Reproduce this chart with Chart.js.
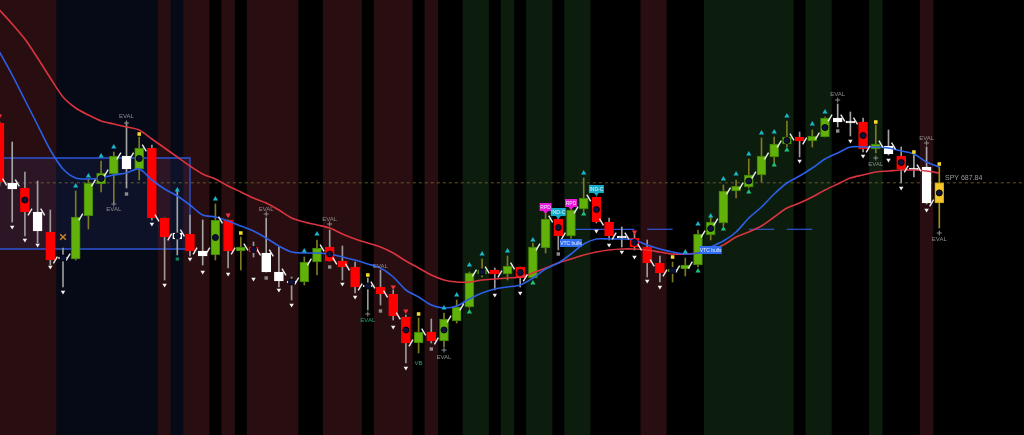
<!DOCTYPE html>
<html><head><meta charset="utf-8">
<script src="https://cdn.jsdelivr.net/npm/chart.js@4.4.1/dist/chart.umd.min.js"></script>
<style>html,body{margin:0;padding:0;background:#000;overflow:hidden}#wrap{width:1024px;height:435px}</style>
</head><body><div id="wrap"><canvas id="c" width="1024" height="435"></canvas></div>
<script>
// ---------- data (SPY daily) ----------
const opens  = [699.8,686.6,686.8,678.2,678.0,672.6,672.6,681.2,687.6,689.6, 690.6,690.6,694.8,680.8,676.6,677.6,673.2,673.4,680.4,674.2, 675.0,670.0,668.2,667.8,668.0,672.0,675.0,672.2,671.0,667.0, 667.0,665.6,661.0,655.8,658.0,656.2,660.2,663.0,669.6,670.4, 669.6,671.0,668.8,674.8,680.6,677.2,682.6,685.0,680.0,676.8, 676.8,675.0,671.8,670.0,670.6,671.4,677.4,679.8,686.2,687.0, 689.4,693.0,695.6,697.0,696.2,697.0,700.0,699.8,700.0,694.6, 693.6,693.2,690.4,691.0,683.8];
const highs  = [700.0,696.0,690.0,688.2,682.4,674.8,686.2,688.6,692.2,694.0, 700.0,697.0,695.4,680.8,686.4,681.4,680.4,683.6,680.4,677.0, 676.0,680.8,675.0,669.0,673.0,676.4,678.4,675.2,672.0,668.8, 670.4,666.4,661.4,660.8,660.6,661.8,664.4,670.0,672.6,670.8, 673.2,671.0,675.8,681.8,681.0,683.4,688.8,685.0,680.8,679.0, 678.0,676.4,673.2,672.0,672.8,678.4,681.2,687.4,688.4,692.6, 696.8,697.0,700.2,698.0,698.4,701.0,703.6,702.0,700.8,699.4, 698.4,695.0,693.4,695.0,691.0];
const lows   = [687.2,680.0,677.2,675.8,671.4,667.0,672.4,678.6,686.0,683.8, 686.8,688.4,680.4,668.4,673.4,673.2,671.4,672.4,670.8,670.4, 673.0,670.0,667.0,664.4,667.4,669.4,672.2,668.4,665.8,662.4, 663.4,660.4,651.8,653.8,655.8,655.0,659.8,662.8,669.0,666.4, 668.4,667.0,668.8,673.8,674.4,676.8,682.2,679.8,676.4,675.0, 674.4,669.0,668.0,668.0,669.2,671.0,676.4,679.2,684.8,686.8, 688.0,691.8,695.0,693.0,695.0,697.0,699.0,697.2,694.0,693.8, 693.4,687.8,689.0,683.6,678.8];
const closes = [688.0,687.8,682.0,682.0,672.4,673.0,681.0,687.8,689.8,693.2, 693.2,694.8,680.8,677.0,677.8,674.2,674.2,680.4,674.2,675.0, 674.0,673.8,670.0,668.2,672.0,674.8,672.2,671.0,667.0,667.4, 665.6,661.2,655.8,658.0,656.2,660.6,663.0,669.8,670.4,669.6, 671.2,668.8,675.0,680.6,677.2,682.4,684.8,680.0,677.2,677.2, 675.0,671.8,669.8,670.6,671.4,677.6,680.0,686.2,687.2,689.4, 693.2,695.6,697.0,696.2,697.2,700.8,700.8,700.2,694.6,695.6, 695.2,690.6,690.8,683.8,687.84];
// candle colour state: G up, R down, W neutral, D doji, Y last bar
const candleState = "RWRWRDGGGGWGRRWRWGRGRWWDGGRRRDRRRGRGGGGRGRGGRGGRRWRRRGGGGGGGGGGRGGWWRGWRWWY".split("");
// background regime per bar: R bearish, N neutral-blue, K none, G bullish
const regime = "RRRRRNNNNNNNNRNRRKRKRRRRKKRRRKRRRKRKKGGKGKGGKGGKKKKRRKKKGGGGGGGKGGKKKGKKKRK".split("");
const maSlow = [722.4,719.6,716.6,712.8,708.8,705.0,702.8,701.4,700.2,699.6, 699.0,698.4,696.6,694.8,693.0,691.2,689.6,688.6,687.2,686.0, 684.8,683.8,682.4,680.8,680.0,679.4,678.8,677.6,676.6,675.8, 675.0,673.8,672.2,670.8,669.4,668.4,668.0,668.0,668.4,668.6, 668.8,669.0,669.8,670.8,671.8,672.6,673.4,674.0,674.4,674.6, 674.6,674.4,674.0,673.6,673.6,673.8,674.4,675.4,677.0,678.0, 679.2,681.0,682.8,683.8,685.0,686.4,687.6,688.8,689.4,690.0, 690.2,690.4,690.4,690.2,689.8];
const maFast = [714.0,709.4,704.4,699.4,694.4,690.6,688.8,688.6,688.8,689.4, 689.8,690.6,688.4,686.6,685.2,683.4,681.4,681.0,680.2,679.2, 678.2,676.8,675.2,674.0,673.8,673.8,673.6,673.0,672.4,671.6, 670.8,669.0,666.4,665.0,663.4,662.8,663.2,664.6,665.8,666.6, 667.0,667.4,668.8,670.6,671.8,673.6,675.6,676.6,676.6,676.6, 676.4,675.4,674.6,674.0,673.6,673.8,675.0,676.2,678.0,680.8, 683.0,685.6,687.8,689.2,690.8,692.6,693.8,695.0,695.0,695.0, 694.8,694.2,693.6,692.0,691.0];
const lastPrice = 687.84;
const dotBars = [2,5,8,11,14,17,20,23,26,29,32,35,38,41,44,47,50,53,56,59,62,65,68,71,74];
// signal markers [bar, price]
const sigBullTop = [[6,687.2],[7,689.2],[8,693.2],[9,695.0],[14,686.4],[17,684.6],[24,674.2],[25,677.6],[35,662.8],[36,665.4],[37,671.4],[38,673.6],[40,674.2],[42,676.4],[43,682.6],[45,683.8],[46,689.8],[54,674.0],[55,679.6],[56,681.2],[57,688.6],[58,689.6],[59,693.6],[60,697.8],[61,698.0],[62,701.2],[64,699.6],[65,702.0]];
const sigBearTop = [[0,701.2],[18,681.4],[31,667.0],[32,662.2],[50,678.0]];
const sigBullLow = [[37,662.0],[42,667.8],[45,676.2],[46,681.6],[55,670.2],[57,678.6],[59,686.0],[61,691.4],[62,694.4]];
const sigExitLow = [[1,679.0],[2,676.4],[3,675.4],[4,671.0],[5,666.0],[12,679.6],[13,667.4],[15,672.6],[16,670.0],[18,669.6],[20,668.6],[22,666.4],[23,663.4],[27,667.6],[28,665.0],[31,659.0],[32,650.8],[39,665.4],[41,665.8],[47,678.2],[48,675.4],[49,674.0],[50,673.0],[51,668.2],[52,667.0],[63,692.2],[67,696.2],[68,693.2],[70,692.4],[71,686.8],[73,682.4]];
const graySq = [[10,685.6],[21,668.8],[26,671.0],[30,662.2],[34,654.6],[44,673.6],[66,698.2]];
const yellowSq = [[11,697.6],[19,677.8],[29,669.4],[33,661.6],[53,673.0],[69,700.0],[72,694.0],[74,691.6]];
const evalCross = [[9,683.6],[10,699.8],[21,681.6],[26,679.6],[29,661.6],[35,654.4],[66,704.4],[69,692.8],[73,695.8],[74,677.8]];
const textLabels = [["EVAL",10,701.2,"g"],["EVAL",9,682.6,"g"],["EVAL",21,682.6,"g"],["EVAL",26,680.6,"g"],["EVAL",30,671.2,"g"],["EVAL",29,660.4,"t"],["VB",33,651.8,"t"],["EVAL",35,653.0,"g"],["EVAL",66,705.6,"g"],["EVAL",69,691.6,"g"],["EVAL",73,696.8,"g"],["EVAL",74,676.6,"g"]];
const callouts = [["RPD",43,683.0,"m"],["RPD",45,683.8,"m"],["IND-C",44,682.0,"c"],["IND-C",47,686.6,"c"],["VTC bulls",45,675.8,"b"],["VTC bulls",56,674.4,"b"]];
const orangeX = [[5,677.0]];
const greenTag = [[14,672.6]];
const rangeBox = {x0:-1, x1:15.0, top:692.8, bottom:674.6};
const levelSegs = [[45,50],[51,53],[59,61],[62,64]];
const levelPrice = 678.54;

// ---------- styling ----------
const Y_MIN = 637.4, Y_MAX = 724.4;
const bandCol = {R:'rgb(41,14,17)', N:'rgb(6,10,22)', G:'rgb(12,29,14)', K:'rgba(0,0,0,0)'};
const bodyCol = {G:'#62b10b', R:'#ff0000', W:'#ffffff', D:'#d8d8d8', Y:'#f2c72a'};
const bodyBorder = {G:'#3d7d06', R:'#ff0000', W:'#ffffff', D:'#d8d8d8', Y:'#c9a016'};
const wickCol = {G:'#7d7a22', R:'#9a9a9a', W:'#a4a4a4', D:'#9a9a9a', Y:'#a08f1e'};
const idx = opens.map((_, i) => i);

const bandData = idx.map(i => ({x:i, y:[Y_MIN, Y_MAX]}));
const bodyData = idx.map(i => ({x:i, y:[Math.min(opens[i],closes[i]), Math.max(opens[i],closes[i])]}));
const wickData = idx.map(i => ({x:i, y:[lows[i], highs[i]]}));
const pts = arr => arr.map(p => ({x:p[0], y:p[1]}));
const slashData = idx.slice(0, -1).map(i => ({x:i+0.4, y:closes[i]}));
const slashRot = idx.slice(0, -1).map(i => closes[i+1] >= closes[i] ? -60 : 60);

const boxData = [{x:rangeBox.x0,y:rangeBox.top},{x:rangeBox.x1,y:rangeBox.top},{x:rangeBox.x1,y:rangeBox.bottom},{x:rangeBox.x0,y:rangeBox.bottom},{x:rangeBox.x0,y:rangeBox.top}];

const datasets = [
  {type:'bar', data:bandData, backgroundColor: regime.map(r => bandCol[r]), barThickness:12.8, grouped:false, order:100},
  {type:'line', data:boxData, borderColor:'#2d55d6', borderWidth:1.3, backgroundColor:'rgba(80,100,220,0.10)', fill:'shape', pointRadius:0, tension:0, order:90},
  {type:'line', data:[{x:-1,y:lastPrice},{x:82,y:lastPrice}], borderColor:'rgba(120,100,45,0.85)', borderWidth:1, borderDash:[3,3], pointRadius:0, order:85},
];
levelSegs.forEach(s => datasets.push({type:'line', data:[{x:s[0],y:levelPrice},{x:s[1],y:levelPrice}], borderColor:'#2d55d6', borderWidth:1.2, pointRadius:0, order:84}));
datasets.push(
  {type:'bar', data:wickData, backgroundColor: candleState.map(s => wickCol[s]), barThickness:1, grouped:false, order:40},
  {type:'bar', data:bodyData, backgroundColor: candleState.map(s => bodyCol[s]), borderColor: candleState.map(s => bodyBorder[s]), borderWidth:1, borderSkipped:false, barThickness:9, grouped:false, order:35},
  {type:'line', data: idx.map(i => ({x:i, y:maSlow[i]})), borderColor:'#d9343f', borderWidth:1.6, pointRadius:0, tension:0.3, order:30},
  {type:'line', data: idx.map(i => ({x:i, y:maFast[i]})), borderColor:'#2c5fe6', borderWidth:1.6, pointRadius:0, tension:0.3, order:29},
  {type:'scatter', data:slashData, pointStyle:'line', rotation:slashRot, radius:4, borderColor:'#ececec', borderWidth:1.4, order:20},
  {type:'scatter', data: dotBars.map(i => ({x:i, y:(opens[i]+closes[i])/2})), pointStyle:'circle', radius:3, backgroundColor:'#0b1138', borderColor:'#02030a', borderWidth:1, order:15},
  {type:'scatter', data:pts(sigBullTop), pointStyle:'triangle', radius:3, backgroundColor:'#19b6c9', borderColor:'#19b6c9', borderWidth:0, order:10},
  {type:'scatter', data:pts(sigBearTop), pointStyle:'triangle', rotation:180, radius:3, backgroundColor:'#f0303a', borderColor:'#f0303a', borderWidth:0, order:10},
  {type:'scatter', data:pts(sigBullLow), pointStyle:'triangle', radius:3, backgroundColor:'#1fc27a', borderColor:'#1fc27a', borderWidth:0, order:10},
  {type:'scatter', data:pts(sigExitLow), pointStyle:'triangle', rotation:180, radius:2.6, backgroundColor:'#f2f2f2', borderColor:'#f2f2f2', borderWidth:0, order:10},
  {type:'scatter', data:pts(graySq), pointStyle:'rect', radius:2.4, backgroundColor:'#8c8c8c', borderColor:'#8c8c8c', borderWidth:0, order:10},
  {type:'scatter', data:pts(yellowSq), pointStyle:'rect', radius:2.5, backgroundColor:'#f6dc2c', borderColor:'#f6dc2c', borderWidth:0, order:10},
  {type:'scatter', data:pts(evalCross), pointStyle:'cross', radius:2.5, borderColor:'#8a8a8a', borderWidth:1, order:10},
  {type:'scatter', data:pts(orangeX), pointStyle:'crossRot', radius:4, borderColor:'#d2882a', borderWidth:1.4, order:10},
  {type:'scatter', data:pts(greenTag), pointStyle:'rect', radius:2.3, backgroundColor:'#17805a', borderColor:'#17805a', borderWidth:0, order:10}
);

const calloutCol = {m:'#ec18d8', c:'#14a9c4', b:'#2f6cf0'};
const textCol = {g:'#8c8c8c', t:'#25a56a'};
const annotate = {
  id:'annotate',
  beforeDraw(chart){ const c = chart.ctx; c.save(); c.fillStyle = '#000'; c.fillRect(0,0,chart.width,chart.height); c.restore(); },
  afterDatasetsDraw(chart){
    const c = chart.ctx, xs = chart.scales.x, ys = chart.scales.y;
    c.save();
    c.textAlign = 'center'; c.textBaseline = 'middle';
    c.font = '6px "Liberation Sans", Arial, sans-serif';
    textLabels.forEach(t => { c.fillStyle = textCol[t[3]]; c.fillText(t[0], xs.getPixelForValue(t[1]), ys.getPixelForValue(t[2])); });
    c.font = '5px "Liberation Sans", Arial, sans-serif';
    callouts.forEach(t => {
      const x = xs.getPixelForValue(t[1]), y = ys.getPixelForValue(t[2]);
      const w = t[0].length > 5 ? 22 : (t[0].length > 3 ? 15 : 12), h = 8;
      c.fillStyle = calloutCol[t[3]];
      c.fillRect(x - w/2, y - h/2, w, h);
      if (t[3] !== 'b') { c.beginPath(); c.moveTo(x-2.5, y+h/2); c.lineTo(x+2.5, y+h/2); c.lineTo(x, y+h/2+3); c.closePath(); c.fill(); }
      c.fillStyle = '#e8f0ff';
      c.fillText(t[0], x, y + 0.5);
    });
    c.font = '7px "Liberation Sans", Arial, sans-serif';
    c.textAlign = 'left'; c.textBaseline = 'bottom';
    c.fillStyle = '#9a9a9a';
    c.fillText('SPY ' + lastPrice.toFixed(2), xs.getPixelForValue(74.45), ys.getPixelForValue(lastPrice) - 1);
    c.restore();
  }
};

new Chart(document.getElementById('c'), {
  type:'bar',
  data:{datasets},
  options:{
    responsive:false, animation:false, devicePixelRatio:1,
    layout:{padding:0, autoPadding:false},
    plugins:{legend:{display:false}, tooltip:{enabled:false}},
    scales:{
      x:{type:'linear', min:0.039, max:80.67, offset:false, display:false},
      y:{type:'linear', min:Y_MIN, max:Y_MAX, offset:false, display:false}
    }
  },
  plugins:[annotate]
});
</script></body></html>
